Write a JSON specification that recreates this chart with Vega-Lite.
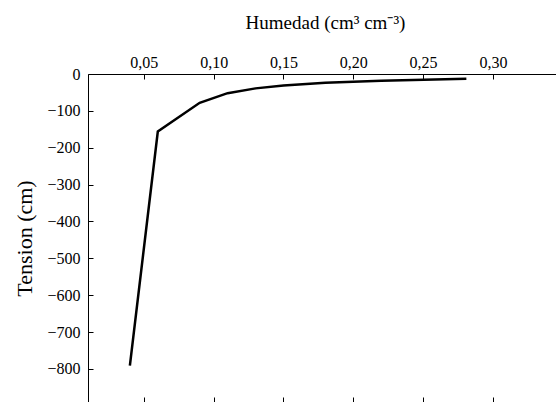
{
  "$schema": "https://vega.github.io/schema/vega-lite/v6.json",
  "width": 468,
  "height": 328,
  "autosize": {"type": "none"},
  "padding": {"left": 88, "top": 74, "right": 0, "bottom": 0},
  "background": "white",
  "config": {
    "view": {"stroke": null},
    "font": "Liberation Serif",
    "axis": {"grid": false, "domainColor": "#000", "tickColor": "#000", "labelColor": "#000", "titleColor": "#000", "labelFont": "Liberation Serif", "titleFont": "Liberation Serif", "titleFontWeight": "normal", "labelFontSize": 16, "titleFontSize": 19, "domainWidth": 1, "tickWidth": 1}
  },
  "data": {"values": [
    {"humedad": 0.040, "tension": -791},
    {"humedad": 0.060, "tension": -156},
    {"humedad": 0.090, "tension": -78},
    {"humedad": 0.110, "tension": -52},
    {"humedad": 0.130, "tension": -39},
    {"humedad": 0.150, "tension": -31},
    {"humedad": 0.180, "tension": -24},
    {"humedad": 0.220, "tension": -18},
    {"humedad": 0.281, "tension": -13}
  ]},
  "layer": [
    {
      "mark": {"type": "line", "color": "#000", "strokeWidth": 2.5, "clip": true},
      "encoding": {
        "x": {"field": "humedad", "type": "quantitative",
          "scale": {"domain": [0.01, 0.3452], "nice": false, "zero": false},
          "axis": {"orient": "top", "offset": -5, "domain": false, "title": "Humedad (cm³ cm⁻³)", "values": [0.05, 0.1, 0.15, 0.2, 0.25, 0.3], "format": ",.2f", "labelExpr": "replace(datum.label, '.', ',')", "tickSize": 5, "labelPadding": 4, "titleX": 237, "titleY": -51, "titleAlign": "center", "titleBaseline": "alphabetic", "titleAnchor": null}},
        "y": {"field": "tension", "type": "quantitative",
          "scale": {"domain": [-889.5, 0], "nice": false, "zero": false},
          "axis": {"orient": "left", "offset": -5, "domain": false, "title": "Tension (cm)", "titleFontSize": 22, "values": [0, -100, -200, -300, -400, -500, -600, -700, -800], "tickSize": 5, "labelPadding": 8, "titleAngle": -90, "titleX": -69, "titleY": 164, "titleAlign": "center", "titleBaseline": "middle", "titleAnchor": null}}
      }
    },
    {
      "mark": {"type": "point", "opacity": 0},
      "encoding": {
        "x": {"field": "humedad", "type": "quantitative",
          "axis": {"orient": "top", "title": null, "labels": false, "ticks": false, "domain": true}},
        "y": {"field": "tension", "type": "quantitative",
          "axis": {"orient": "left", "title": null, "labels": false, "ticks": false, "domain": true}}
      }
    },
    {
      "mark": {"type": "point", "opacity": 0},
      "encoding": {
        "x": {"field": "humedad", "type": "quantitative",
          "axis": {"orient": "bottom", "offset": -5, "title": null, "labels": false, "domain": false, "values": [0.05, 0.1, 0.15, 0.2, 0.25, 0.3], "tickSize": 5}},
        "y": {"field": "tension", "type": "quantitative", "axis": null}
      }
    }
  ],
  "resolve": {"axis": {"x": "independent", "y": "independent"}}
}
